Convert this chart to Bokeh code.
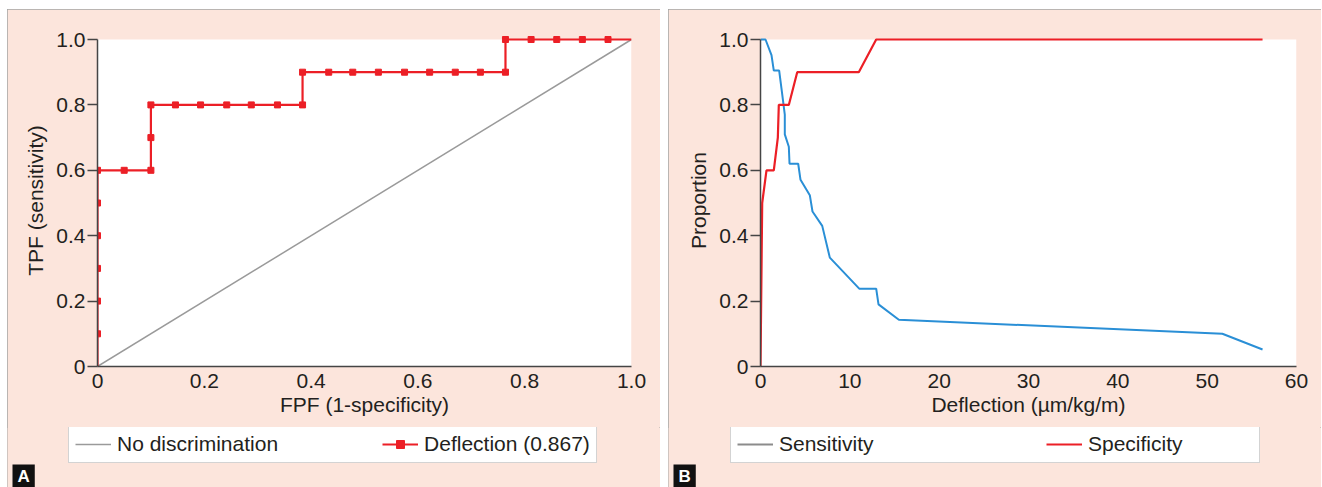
from bokeh.plotting import figure
from bokeh.models import Range1d, FixedTicker, Legend, LegendItem, Label, BoxAnnotation
from bokeh.layouts import row, column
from bokeh.embed import file_html
from bokeh.resources import INLINE

NAN = float("nan")

# ---------------- Data ----------------
# Panel A: ROC curve (FPF, TPF)
roc_fpf = [0, 0, 0, 0, 0, 0, 0, 0.05, 0.10, 0.10, 0.10, 0.146, 0.193, 0.242, 0.288, 0.337,
           0.384, 0.384, 0.433, 0.478, 0.526, 0.575, 0.622, 0.670, 0.717, 0.764, 0.764,
           0.812, 0.860, 0.908, 0.956, 1.0]
roc_tpf = [0, 0.1, 0.2, 0.3, 0.4, 0.5, 0.6, 0.6, 0.6, 0.7, 0.8, 0.8, 0.8, 0.8, 0.8, 0.8,
           0.8, 0.9, 0.9, 0.9, 0.9, 0.9, 0.9, 0.9, 0.9, 0.9, 1.0,
           1.0, 1.0, 1.0, 1.0, 1.0]
diag = [0, 1]
axis_ticks_a = [0, 0.2, 0.4, 0.6, 0.8, 1.0]
tick_labels_a = ["0", "0.2", "0.4", "0.6", "0.8", "1.0"]

# Panel B: sensitivity / specificity vs deflection
sens_x = [0, 0.56, 1.23, 1.49, 2.09, 2.35, 2.72, 2.72, 3.17, 3.25, 4.22, 4.48, 5.52, 5.82,
          6.91, 7.76, 11.05, 12.95, 13.21, 15.49, 51.7, 56.2]
sens_y = [1.0, 1.0, 0.952, 0.905, 0.905, 0.85, 0.77, 0.71, 0.672, 0.62, 0.62, 0.571, 0.524,
          0.474, 0.43, 0.333, 0.238, 0.238, 0.19, 0.143, 0.1, 0.052]
spec_x = [0, 0.19, 0.67, 1.49, 1.94, 2.05, 3.17, 4.11, 11.0, 12.95, 56.2]
spec_y = [0, 0.5, 0.6, 0.6, 0.7, 0.8, 0.8, 0.9, 0.9, 1.0, 1.0]
x_ticks_b = [0, 10, 20, 30, 40, 50, 60]
x_labels_b = ["0", "10", "20", "30", "40", "50", "60"]

# ---------------- Styles ----------------
PINK = "#fce5dc"
RED = "#ec1f26"
BLUE = "#2a8fd6"
GRAY = "#9a9a9a"
AXIS = "#454545"
TEXT = "#231f20"
FONT = "Liberation Sans"
FS = "21px"
W = 653
H_MAIN = 418
H_LEG = 60
TOP_PAD = 5 / 327   # a little room above 1.0 so the top line is not cut


def no_align(p):
    if "frame_align" in p.properties():
        p.frame_align = False


def style_axes(p, xticks, xlabels, yticks, ylabels, xlabel, ylabel):
    p.grid.visible = False
    for ax in (p.xaxis[0], p.yaxis[0]):
        ax.axis_line_color = AXIS
        ax.axis_line_width = 1.5
        ax.major_tick_line_color = AXIS
        ax.major_tick_line_width = 1.5
        ax.minor_tick_line_color = None
        ax.major_label_text_font = FONT
        ax.major_label_text_font_size = FS
        ax.major_label_text_color = TEXT
        ax.axis_label_text_font = FONT
        ax.axis_label_text_font_size = FS
        ax.axis_label_text_font_style = "normal"
        ax.axis_label_text_color = TEXT
    xa, ya = p.xaxis[0], p.yaxis[0]
    xa.ticker = FixedTicker(ticks=xticks)
    xa.major_label_overrides = {t: l for t, l in zip(xticks, xlabels)}
    xa.major_tick_out = 0
    xa.major_tick_in = 0
    xa.major_label_standoff = 7
    xa.axis_label = xlabel
    xa.axis_label_standoff = 2
    ya.bounds = (yticks[0], yticks[-1])
    ya.ticker = FixedTicker(ticks=yticks)
    ya.major_label_overrides = {t: l for t, l in zip(yticks, ylabels)}
    ya.major_tick_out = 10
    ya.major_tick_in = 0
    ya.major_label_standoff = 2
    ya.axis_label = ylabel
    ya.axis_label_standoff = 6


def make_fig(xmax, min_left, min_right):
    p = figure(width=W, height=H_MAIN, output_backend="svg", toolbar_location=None, tools="",
               x_range=Range1d(0, xmax), y_range=Range1d(0, 1 + TOP_PAD),
               min_border_left=min_left, min_border_right=min_right,
               min_border_top=25, min_border_bottom=61,
               background_fill_color=PINK, border_fill_color=PINK,
               outline_line_color=None)
    p.add_layout(BoxAnnotation(left=0, right=xmax, bottom=0, top=1, fill_color="white",
                               fill_alpha=1.0, line_color=None, level="underlay"))
    no_align(p)
    return p


def make_legend_fig():
    p = figure(frame_width=W, frame_height=H_LEG, output_backend="svg",
               toolbar_location=None, tools="",
               x_range=Range1d(0, 1), y_range=Range1d(0, 1),
               x_axis_location=None, y_axis_location=None,
               min_border=0, min_border_left=0, min_border_right=0,
               min_border_top=0, min_border_bottom=0,
               background_fill_color=PINK, border_fill_color=PINK,
               outline_line_color=None)
    p.grid.visible = False
    no_align(p)
    return p


def make_legend(items, loc, spacing, label_width=0):
    return Legend(items=items, location=loc, orientation="horizontal",
                  spacing=spacing, padding=6, margin=0, glyph_width=36, glyph_height=20,
                  label_standoff=6, label_width=label_width,
                  label_text_font=FONT, label_text_font_size=FS, label_text_color=TEXT,
                  border_line_color="#a8a8a8", border_line_width=1.5,
                  background_fill_color="white", background_fill_alpha=1.0)


def corner_label(text):
    return Label(x=5, y=0, x_units="screen", y_units="screen", text=text,
                 text_font=FONT, text_font_size="17px", text_font_style="bold",
                 text_color="white", text_align="left", text_baseline="bottom",
                 background_fill_color="#111111", padding=(5, 2))


PANEL_STYLE = {"outline": "1.5px solid #a4a4a4", "outline-offset": "-1px",
               "background-color": PINK}

# ---------------- Panel A ----------------
pa = make_fig(1.0, 90, 29)
style_axes(pa, axis_ticks_a, tick_labels_a, axis_ticks_a, tick_labels_a,
           "FPF (1-specificity)", "TPF (sensitivity)")
pa.line(diag, diag, line_color=GRAY, line_width=1.5)
pa.line(roc_fpf, roc_tpf, line_color=RED, line_width=2.2)
pa.scatter(roc_fpf[1:-1], roc_tpf[1:-1], marker="square", size=6,
           fill_color=RED, line_color=RED)

# legend keys (nothing drawn in the plot area, only used as legend swatches)
la = make_legend_fig()
k_diag = la.line([NAN, NAN], [NAN, NAN], line_color=GRAY, line_width=1.5)
k_roc = la.line([NAN, NAN], [NAN, NAN], line_color=RED, line_width=2.2)
k_pts = la.scatter([NAN], [NAN], marker="square", size=7, fill_color=RED, line_color=RED)
la.add_layout(make_legend([LegendItem(label="No discrimination", renderers=[k_diag]),
                           LegendItem(label="Deflection (0.867)", renderers=[k_roc, k_pts])],
                          (61, 24), spacing=104), "center")
la.add_layout(corner_label("A"))

# ---------------- Panel B ----------------
pb = make_fig(60.0, 92, 25)
style_axes(pb, x_ticks_b, x_labels_b, axis_ticks_a, tick_labels_a,
           "Deflection (µm/kg/m)", "Proportion")
pb.line(sens_x, sens_y, line_color=BLUE, line_width=2)
pb.line(spec_x, spec_y, line_color=RED, line_width=2.2)

lb = make_legend_fig()
k_sens = lb.line([NAN, NAN], [NAN, NAN], line_color="#8c8c8c", line_width=2)
k_spec = lb.line([NAN, NAN], [NAN, NAN], line_color=RED, line_width=2)
lb.add_layout(make_legend([LegendItem(label="Sensitivity", renderers=[k_sens]),
                           LegendItem(label="Specificity", renderers=[k_spec])],
                          (62, 24), spacing=102, label_width=165), "center")
lb.add_layout(corner_label("B"))

col_a = column(pa, la, spacing=0, styles=PANEL_STYLE)
col_b = column(pb, lb, spacing=0, styles=PANEL_STYLE)
layout = row(col_a, col_b, spacing=8, margin=(9, 0, 0, 7))
open("out.html", "w").write(file_html(layout, INLINE))
